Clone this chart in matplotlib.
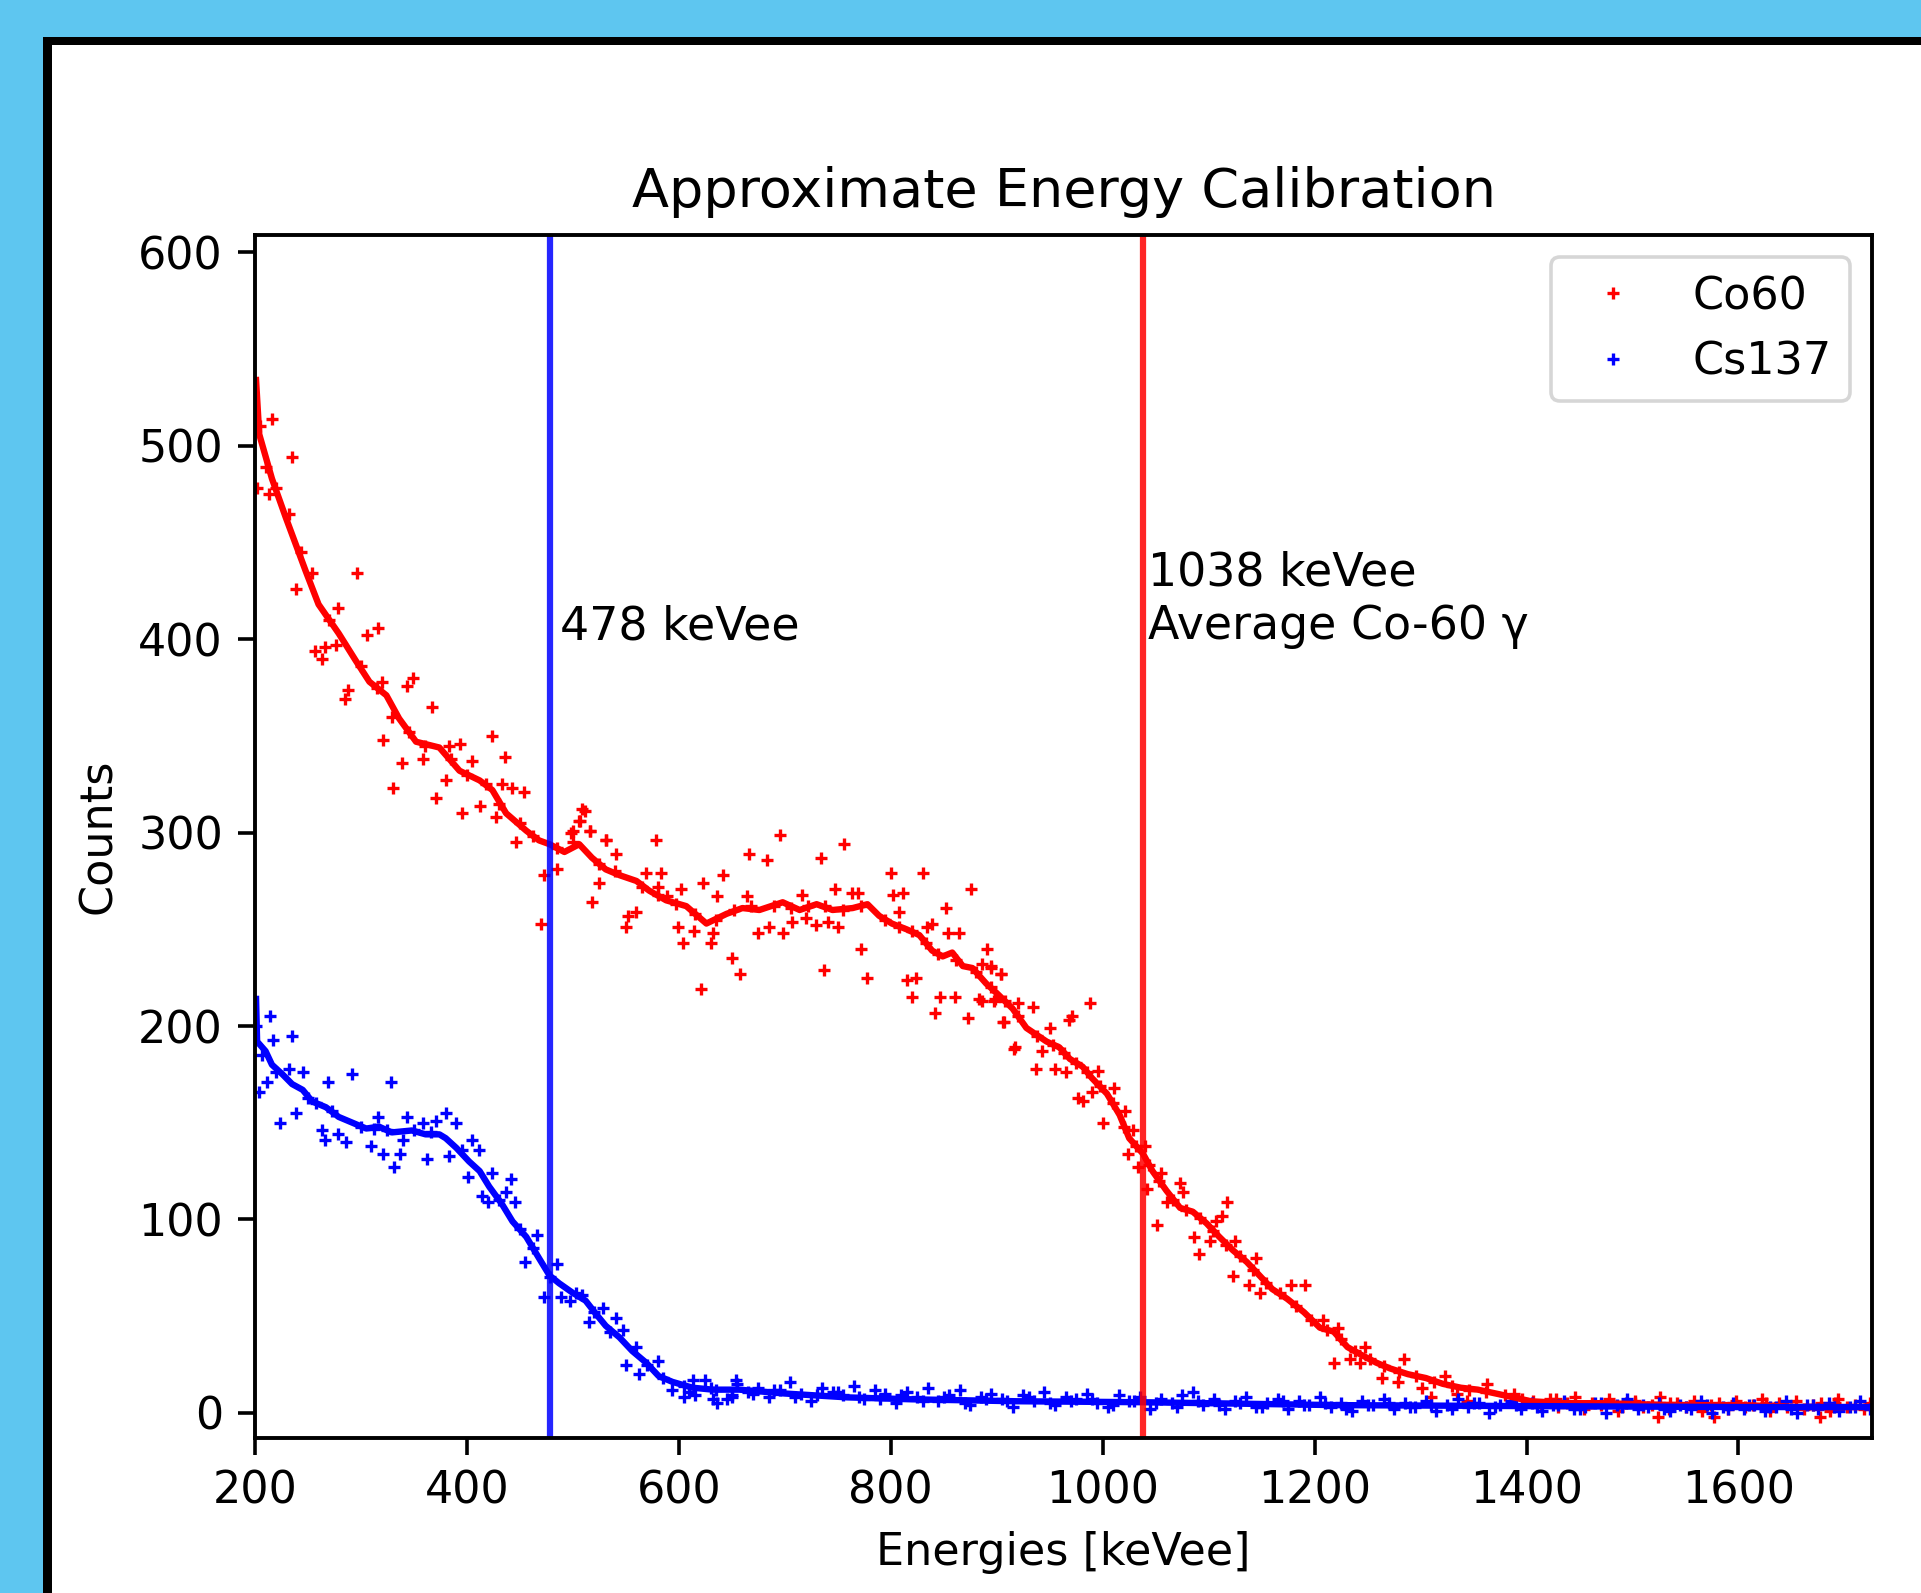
import matplotlib
matplotlib.use("Agg")
import matplotlib.pyplot as plt
from matplotlib.patches import Rectangle

# ---- data ----
co60_e = [216, 235, 202, 213, 210, 232, 296, 254, 239, 278, 306, 316, 257, 266, 263, 276, 288, 285,
          320, 343, 349, 367, 329, 321, 339, 330, 359, 383, 393, 405, 380, 371, 395, 412, 424, 436,
          433, 443, 454, 427, 446, 511, 506, 498, 516, 531,
          509, 507, 500, 516, 531, 485, 473, 470, 541, 578, 525, 518, 569, 583, 580, 589, 552, 560,
          550, 602, 623, 642, 636, 599, 614, 604, 632, 630, 621, 650, 658, 666, 683, 695, 664, 675,
          685, 698, 707, 716, 720, 729, 734, 756, 747, 741, 750, 737, 763, 769, 772, 778, 800, 830,
          802, 812, 808, 815, 824, 820, 834, 839, 852, 854, 864, 842, 846, 861, 876, 891, 886, 895,
          904, 873, 883, 898, 907, 917, 920,
          895, 904, 886, 897, 934, 988, 971, 968, 906, 950, 916, 943, 937, 955, 965, 996, 1011, 990,
          977, 981, 1021, 1000, 1029, 1024, 1040, 1033, 1055, 1042, 1073, 1076, 1061, 1117, 1113,
          1107, 1051, 1086, 1101, 1125, 1091, 1145, 1123, 1138, 1178, 1191, 1148,
          1208, 1222, 1218, 1233, 1248, 1243, 1284, 1264, 1279, 1301, 1323, 1310, 1363, 1334, 1388,
          1344, 1428, 1502, 1535, 1626, 1691, 1524, 1577, 1677,
          205, 220, 243, 270, 300, 315, 345, 360, 385, 400, 418, 430, 450, 462, 485, 500, 525, 540,
          565, 580, 597, 615, 635, 652, 668, 690, 706, 722, 738, 755, 772, 795, 808, 820, 833, 845,
          862, 880, 895, 908, 920, 938, 953, 963, 975, 985, 997, 1010, 1020, 1031, 1044, 1053, 1066,
          1079, 1092, 1104, 1116, 1130, 1142, 1154, 1167, 1182, 1197, 1212, 1225, 1238, 1252, 1265,
          1280, 1296, 1313, 1330, 1346, 1362, 1380, 1396,
          1406, 1414, 1422, 1430, 1438, 1446, 1454, 1462, 1470, 1478, 1486, 1494, 1502, 1510, 1518,
          1526, 1534, 1542, 1550, 1558, 1566, 1574, 1582, 1590, 1598, 1606, 1614, 1622, 1630, 1638,
          1646, 1654, 1662, 1670, 1678, 1686, 1694, 1702, 1710, 1718, 1724]
co60_c = [514, 494, 478, 475, 489, 465, 434, 434, 426, 416, 402, 406, 394, 396, 390, 397, 374, 369,
          378, 376, 380, 365, 360, 348, 336, 323, 338, 345, 346, 337, 327, 318, 310, 314, 350, 339,
          325, 323, 321, 308, 295, 311, 306, 300, 301, 296,
          312, 306, 301, 301, 296, 281, 278, 253, 289, 296, 274, 264, 279, 279, 272, 267, 257, 259,
          251, 271, 274, 278, 267, 251, 249, 243, 248, 243, 219, 235, 227, 289, 286, 299, 267, 248,
          251, 248, 254, 268, 256, 252, 287, 294, 271, 254, 251, 229, 269, 269, 240, 225, 279, 279,
          268, 269, 259, 224, 225, 215, 251, 253, 261, 248, 248, 207, 215, 215, 271, 240, 232, 230,
          227, 204, 214, 214, 202, 189, 212,
          231, 227, 213, 213, 210, 212, 205, 203, 202, 199, 188, 187, 178, 178, 176, 177, 168, 166,
          163, 161, 156, 150, 146, 134, 138, 127, 124, 116, 119, 114, 109, 109, 102,
          99, 97, 91, 89, 89, 82, 80, 71, 66, 66, 66, 62,
          48, 44, 26, 28, 34, 26, 28, 18, 16, 13, 19, 8, 15, 10, 10,
          6, 7, 5, 5, 5, 5, -2, -2, -2,
          510, 478, 445, 410, 386, 375, 352, 345, 338, 330, 325, 315, 305, 298, 292, 295, 284, 280,
          272, 268, 263, 258, 255, 260, 262, 262, 261, 262, 262, 260, 262, 255, 251, 249, 243, 237,
          234, 228, 220, 213, 205, 195, 190, 186, 181, 176, 169, 160, 148, 138, 128, 120, 110,
          105, 101, 94, 87, 81, 74, 67, 62, 55, 48, 43, 38, 32, 28, 24,
          21, 19, 16, 14, 12, 11, 9, 7,
          6, 4, 7, 3, 5, 8, 2, 5, 4, 7, 1, 5, 6, 3, 4,
          8, 2, 5, 3, 6, 1, 4, 5, 2, 6, 3, 4, 7, 1, 5,
          3, 6, 2, 4, 5, 1, 7, 3, 4, 2, 5]

cs137_e = [214, 235, 217, 204, 211, 224, 239, 245, 232, 269, 292, 328, 263, 266, 278, 286, 309, 321,
           331, 337, 340, 362, 316, 343, 359, 371, 380, 390, 383, 405, 411, 401, 424, 442, 414, 420,
           437, 445, 466, 455, 485, 473, 489, 497, 509, 528, 515, 541, 547, 560, 550, 562, 580, 594,
           605, 613, 632, 636, 650, 654,
           201, 207, 220, 250, 258, 273, 300, 312, 325, 350, 366, 395, 430, 450, 462, 478, 503, 520,
           535, 570, 585,
           605, 615, 625, 635, 645, 655, 665, 675, 685, 695, 705, 715, 725, 735, 745, 755, 765, 775,
           785, 795, 805, 815, 825, 835, 845, 855, 865, 875, 885, 895, 905, 915, 925, 935, 945, 955,
           965, 975, 985, 995, 1005, 1015, 1025, 1035, 1045, 1055, 1065, 1075, 1085, 1095, 1105,
           1115, 1125, 1135, 1145, 1155, 1165, 1175, 1185, 1195, 1205, 1215, 1225, 1235, 1245, 1255,
           1265, 1275, 1285, 1295, 1305, 1315, 1325, 1335, 1345, 1355, 1365, 1375, 1385, 1395, 1405,
           1415, 1425, 1435, 1445, 1455, 1465, 1475, 1485, 1495, 1505, 1515, 1525, 1535, 1545, 1555,
           1565, 1575, 1585, 1595, 1605, 1615, 1625, 1635, 1645, 1655, 1665, 1675, 1685, 1695, 1705,
           1715, 1724,
           610, 630, 650, 670, 690, 710, 730, 750, 770, 790, 810, 830, 850, 870, 890, 910, 930, 950,
           970, 990, 1010, 1030, 1050, 1070, 1090, 1110, 1130, 1150, 1170, 1190, 1210, 1230, 1250,
           1270, 1290, 1310, 1330, 1350, 1370, 1390, 1410, 1430, 1450, 1470, 1490, 1510, 1530, 1550,
           1570, 1590, 1610, 1630, 1650, 1670, 1690, 1710]
cs137_c = [205, 195, 193, 166, 171, 150, 155, 176, 178, 171, 175, 171, 146, 141, 144, 140, 138, 134,
           127, 134, 141, 131, 153, 153, 150, 151, 155, 150, 133, 141, 136, 122, 124, 121, 112, 109,
           114, 109, 92, 78, 77, 60, 60, 58, 61, 54, 47, 49, 43, 34, 25, 20, 27, 12,
           8, 17, 7, 5, 8, 17,
           200, 185, 176, 163, 160, 156, 148, 147, 146, 146, 145, 136, 110, 95, 85, 70, 62, 52,
           42, 25, 18,
           14, 9, 17, 12, 7, 15, 11, 13, 8, 12, 16, 10, 6, 13, 11, 9, 14, 7,
           12, 10, 5, 11, 8, 13, 6, 9, 12, 4, 8, 10, 7, 3, 9, 6, 11, 4,
           8, 7, 10, 5, 3, 9, 6, 8, 2, 7, 5, 9, 11, 4, 7,
           2, 6, 8, 3, 5, 7, 2, 6, 4, 8, 3, 5, 1, 6, 4,
           7, 2, 5, 3, 6, 1, 4, 7, 3, 5, 0, 4, 6, 2, 5,
           1, 4, 6, 2, 3, 5, 0, 4, 7, 2, 3, 5, 1, 4, 2,
           6, 0, 3, 5, 2, 4, 1, 3, 6, 0, 4, 2, 5, 1, 3,
           6, 2,
           11, 13, 9, 10, 12, 8, 9, 11, 8, 7, 9, 6, 8, 5, 7, 6, 8, 5,
           6, 7, 4, 6, 5, 3, 6, 4, 5, 3, 6, 4, 5, 2, 4,
           5, 3, 4, 2, 5, 3, 4, 3, 4, 2, 5, 3, 4, 2,
           3, 4, 2, 4, 3, 2, 4, 3, 3]

co60_fit_e = [201, 204, 216, 229, 248, 260, 279, 295, 308, 324, 336, 352, 374, 393, 412, 424, 437, 456,
              468, 478, 492, 506, 518, 531, 544, 560, 572, 588, 607, 626, 645, 660, 676, 698, 714, 730,
              745, 764, 778, 789, 801, 815, 827, 839, 849, 858, 868, 877, 890, 900, 915, 928, 947, 959,
              969, 981, 990, 1004, 1016, 1025, 1038, 1047, 1060, 1073, 1085, 1098, 1110, 1123, 1136,
              1148, 1160, 1174, 1190, 1205, 1218, 1231, 1244, 1258, 1271, 1288, 1305, 1321, 1338, 1354,
              1371, 1388, 1404, 1437, 1471, 1537, 1604, 1660, 1726]
co60_fit_c = [534, 506, 483, 463, 435, 418, 403, 389, 378, 371, 359, 347, 344, 332, 327, 322, 310, 301,
              296, 294, 290, 294, 287, 281, 278, 275, 270, 265, 262, 253, 258, 261, 260, 264, 260, 263,
              260, 261, 263, 257, 253, 250, 247, 239, 236, 238, 231, 230, 222, 217, 209, 199, 192, 189,
              183, 179, 173, 165, 154, 142, 134, 125, 115, 106, 104, 98, 91, 84, 78,
              71, 64, 59, 52, 44, 42, 34, 30, 26, 23, 20, 18, 15, 13, 12,
              10, 8, 6, 5, 5, 4, 4, 3, 3]

cs137_fit_e = [201, 202, 210, 216, 226, 235, 245, 254, 267, 279, 292, 305, 317, 329, 348, 361, 374, 380,
               390, 402, 412, 421, 433, 443, 456, 468, 478, 487, 500, 512, 522, 531, 544, 556, 569, 581,
               594, 613, 632, 657, 700, 759, 820, 919, 1038, 1221, 1400, 1600, 1726]
cs137_fit_c = [214, 192, 187, 180, 175, 170, 167, 161, 158, 153, 150, 147, 148, 145, 146, 144, 144, 142,
               137, 130, 125, 117, 108, 99, 91, 80, 71, 67, 62, 58, 51, 45, 39, 32, 26, 19,
               16, 13, 12, 12, 10, 8, 7, 6, 5.5, 4, 3.5, 3, 3]

cs_line = 478
co_line = 1038
x_ticks = [200, 400, 600, 800, 1000, 1200, 1400, 1600]
y_ticks = [0, 100, 200, 300, 400, 500, 600]

# ---- figure ----
W, H = 1921, 1593
fig = plt.figure(figsize=(W / 100, H / 100), dpi=100, facecolor='#5ec6f0')
fig.add_artist(Rectangle((43 / W, -0.05), 1.1, 1 - 37 / H + 0.05, transform=fig.transFigure,
                         facecolor='black', edgecolor='none', zorder=-10))
fig.add_artist(Rectangle((52 / W, -0.05), 1.1, 1 - 45 / H + 0.05, transform=fig.transFigure,
                         facecolor='white', edgecolor='none', zorder=-9))

ax = fig.add_axes([255 / W, 1 - 1438 / H, (1872 - 255) / W, (1438 - 235) / H])

fs = 32
ax.plot(co60_e, co60_c, ls='none', marker='+', ms=8, mew=2.4, color='red', label='Co60')
ax.plot(cs137_e, cs137_c, ls='none', marker='+', ms=8, mew=2.4, color='blue', label='Cs137')
ax.plot(co60_fit_e, co60_fit_c, color='red', lw=4.6)
ax.plot(cs137_fit_e, cs137_fit_c, color='blue', lw=4.6)
ax.axvline(cs_line, color='blue', lw=4.5, alpha=0.85)
ax.axvline(co_line, color='red', lw=4.5, alpha=0.85)

ax.text(cs_line + 10, 400, f'{cs_line} keVee', fontsize=33)
ax.text(co_line + 5, 400, f'{co_line} keVee\nAverage Co-60 γ', fontsize=33, linespacing=1.25)

ax.set_xlim(200, 1726)
ax.set_ylim(-13, 609)
ax.set_xticks(x_ticks)
ax.set_yticks(y_ticks)
ax.tick_params(length=12, width=2.6, pad=11, labelsize=fs)
for s in ax.spines.values():
    s.set_linewidth(2.8)

ax.set_title('Approximate Energy Calibration', fontsize=39, pad=20)
ax.set_xlabel('Energies [keVee]', fontsize=fs, labelpad=13)
ax.set_ylabel('Counts', fontsize=fs, labelpad=13)

leg = ax.legend(loc='upper right', fontsize=fs)
leg.get_frame().set_linewidth(2.6)

fig.savefig('out.png', dpi=100, facecolor=fig.get_facecolor())
